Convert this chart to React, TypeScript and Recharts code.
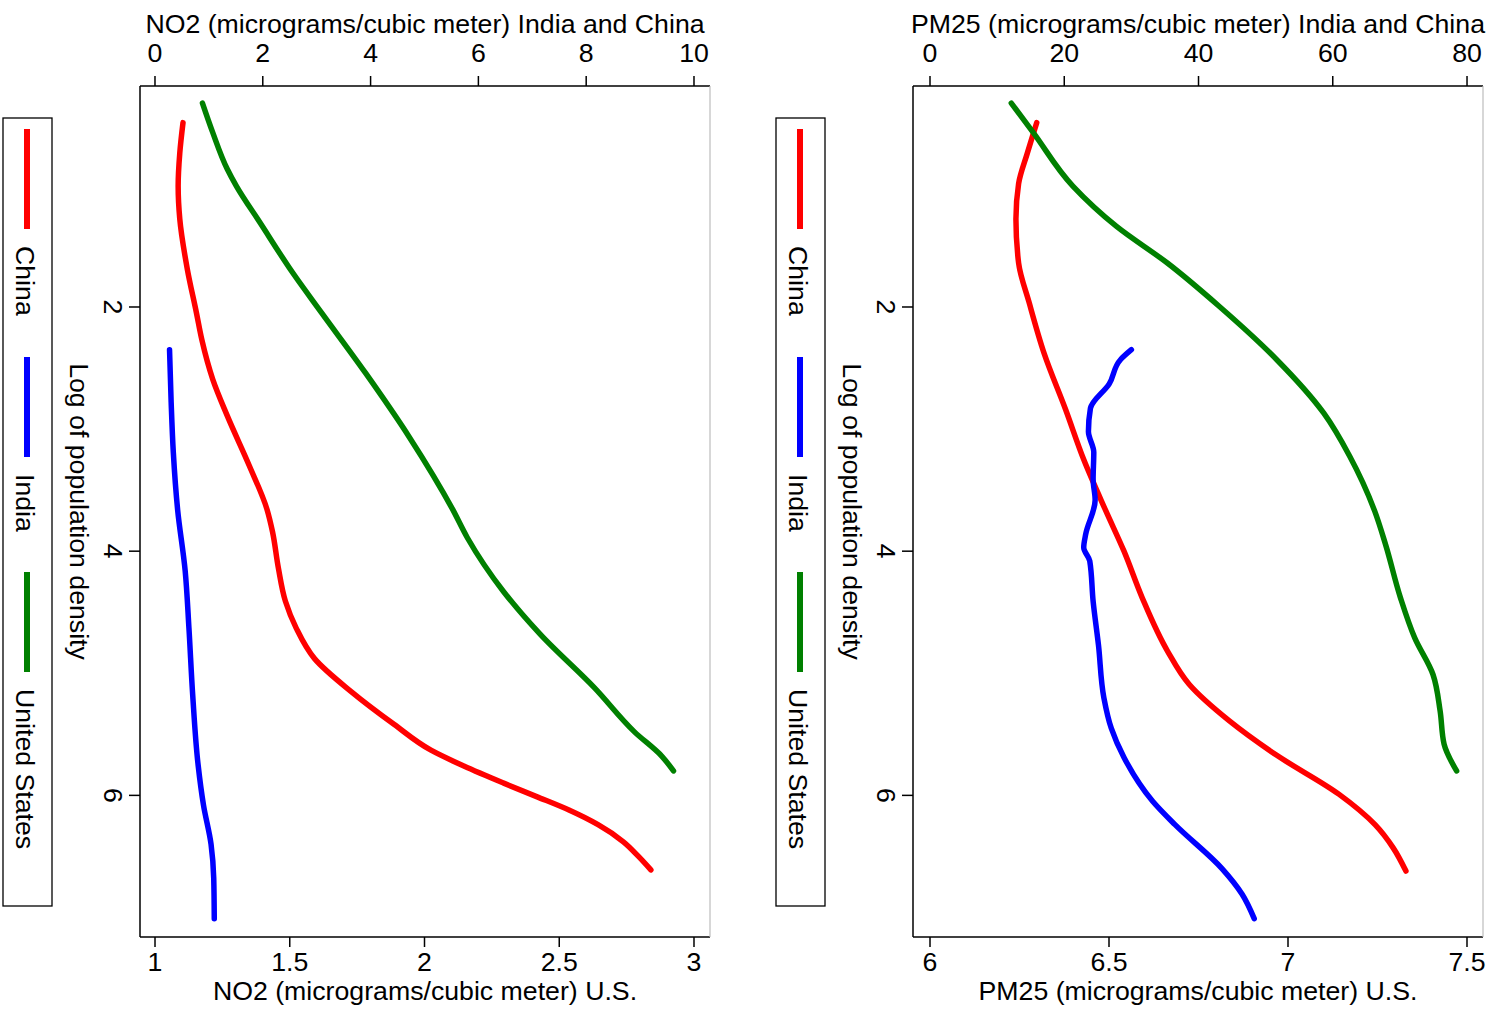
import React from 'react';
import { LineChart, Line, XAxis, YAxis, Legend } from 'recharts';

const FONT = '"Liberation Sans", Arial, Helvetica, sans-serif';

// vertical axis: log of population density (d); horizontal value (v)
const no2China = [
  { d: 0.49, v: 0.52 }, { d: 0.74, v: 0.46 }, { d: 1.01, v: 0.43 }, { d: 1.28, v: 0.46 },
  { d: 1.69, v: 0.6 }, { d: 2.05, v: 0.77 }, { d: 2.27, v: 0.87 }, { d: 2.59, v: 1.07 },
  { d: 2.89, v: 1.34 }, { d: 3.3, v: 1.75 }, { d: 3.66, v: 2.08 }, { d: 3.84, v: 2.18 },
  { d: 4.14, v: 2.29 }, { d: 4.41, v: 2.42 }, { d: 4.63, v: 2.62 }, { d: 4.88, v: 2.96 },
  { d: 5.15, v: 3.64 }, { d: 5.42, v: 4.44 }, { d: 5.63, v: 5.12 }, { d: 5.76, v: 5.73 },
  { d: 5.9, v: 6.47 }, { d: 6.01, v: 7.08 }, { d: 6.12, v: 7.68 }, { d: 6.24, v: 8.22 },
  { d: 6.38, v: 8.69 }, { d: 6.5, v: 8.97 }, { d: 6.61, v: 9.2 },
];

const no2India = [
  { d: 2.35, v: 0.27 }, { d: 2.78, v: 0.3 }, { d: 3.19, v: 0.34 }, { d: 3.66, v: 0.42 },
  { d: 4.16, v: 0.56 }, { d: 4.63, v: 0.63 }, { d: 5.18, v: 0.7 }, { d: 5.75, v: 0.8 },
  { d: 6.08, v: 0.9 }, { d: 6.4, v: 1.04 }, { d: 6.68, v: 1.09 }, { d: 7.01, v: 1.1 },
];

const no2US = [
  { d: 0.33, v: 1.176 }, { d: 0.57, v: 1.214 }, { d: 0.87, v: 1.268 }, { d: 1.01, v: 1.302 },
  { d: 1.31, v: 1.39 }, { d: 1.72, v: 1.511 }, { d: 2.05, v: 1.619 }, { d: 2.54, v: 1.781 },
  { d: 3.06, v: 1.942 }, { d: 3.66, v: 2.105 }, { d: 3.89, v: 2.159 }, { d: 4.33, v: 2.293 },
  { d: 4.68, v: 2.429 }, { d: 5.12, v: 2.631 }, { d: 5.48, v: 2.779 }, { d: 5.68, v: 2.881 },
  { d: 5.8, v: 2.924 },
];

const pmChina = [
  { d: 0.49, v: 15.9 }, { d: 0.74, v: 14.5 }, { d: 0.99, v: 13.2 }, { d: 1.28, v: 12.8 },
  { d: 1.64, v: 13.2 }, { d: 1.97, v: 14.8 }, { d: 2.38, v: 17.0 }, { d: 2.84, v: 20.2 },
  { d: 3.25, v: 22.9 }, { d: 3.67, v: 26.2 }, { d: 4.0, v: 28.9 }, { d: 4.38, v: 31.6 },
  { d: 4.82, v: 35.4 }, { d: 5.09, v: 38.6 }, { d: 5.39, v: 44.6 }, { d: 5.67, v: 51.6 },
  { d: 5.99, v: 60.9 }, { d: 6.24, v: 66.3 }, { d: 6.43, v: 69.0 }, { d: 6.62, v: 70.9 },
];

const pmIndia = [
  { d: 2.35, v: 30.0 }, { d: 2.43, v: 28.4 }, { d: 2.63, v: 26.7 }, { d: 2.83, v: 23.9 },
  { d: 3.02, v: 23.6 }, { d: 3.19, v: 24.4 }, { d: 3.41, v: 24.3 }, { d: 3.58, v: 24.6 },
  { d: 3.86, v: 23.2 }, { d: 3.97, v: 22.9 }, { d: 4.08, v: 23.8 }, { d: 4.41, v: 24.3 },
  { d: 4.77, v: 25.1 }, { d: 5.2, v: 25.9 }, { d: 5.45, v: 27.0 }, { d: 5.69, v: 28.9 },
  { d: 6.05, v: 33.2 }, { d: 6.24, v: 36.5 }, { d: 6.6, v: 43.5 }, { d: 6.81, v: 46.5 },
  { d: 7.01, v: 48.3 },
];

const pmUS = [
  { d: 0.33, v: 6.227 }, { d: 0.57, v: 6.288 }, { d: 1.01, v: 6.399 }, { d: 1.34, v: 6.521 },
  { d: 1.64, v: 6.663 }, { d: 1.99, v: 6.806 }, { d: 2.43, v: 6.968 }, { d: 2.87, v: 7.1 },
  { d: 3.22, v: 7.172 }, { d: 3.67, v: 7.242 }, { d: 3.95, v: 7.273 }, { d: 4.38, v: 7.314 },
  { d: 4.71, v: 7.354 }, { d: 5.01, v: 7.405 }, { d: 5.31, v: 7.425 }, { d: 5.58, v: 7.436 },
  { d: 5.8, v: 7.471 },
];

const densityTicks = [2, 4, 6];
const no2TopTicks = [0, 2, 4, 6, 8, 10];
const no2BottomTicks = [1, 1.5, 2, 2.5, 3];
const pmTopTicks = [0, 20, 40, 60, 80];
const pmBottomTicks = [6, 6.5, 7, 7.5];

const W = 760;
const H = 1011;
const LEFT = 140;
const TOP = 86;
const PLOT_W = 570;
const BOTTOM_H = 74;

const txt = { fontFamily: FONT, fontSize: 26.7, fill: '#000' };
const axisStyle = { stroke: '#000', strokeWidth: 1.5 };

const TopTick = ({ x, y, payload }: any) => (
  <text x={x} y={y} textAnchor="middle" dominantBaseline="central" style={txt}>
    {payload.value}
  </text>
);

const LeftTick = ({ x, y, payload }: any) => (
  <text x={x} y={y} transform={`rotate(90 ${x} ${y})`} textAnchor="middle" dominantBaseline="central" style={txt}>
    {payload.value}
  </text>
);

const Title = ({ x, y, text, rotate }: any) => (
  <text
    x={x}
    y={y}
    transform={rotate ? `rotate(90 ${x} ${y})` : undefined}
    textAnchor="middle"
    dominantBaseline="central"
    style={txt}
  >
    {text}
  </text>
);

const LEGEND_STARTS = [12, 240, 455];

function LegendBox({ payload }: any) {
  return (
    <svg width={52} height={791} style={{ display: 'block' }}>
      <rect x={1} y={1} width={49} height={788} fill="#fff" stroke="#000" strokeWidth={1.3} />
      {(payload || []).map((p: any, i: number) => {
        const y0 = LEGEND_STARTS[i];
        return (
          <g key={p.value}>
            <line x1={25} x2={25} y1={y0} y2={y0 + 100} stroke={p.color} strokeWidth={6} />
            <text
              x={23}
              y={y0 + 117}
              transform={`rotate(90 23 ${y0 + 117})`}
              dominantBaseline="central"
              style={txt}
            >
              {p.value}
            </text>
          </g>
        );
      })}
    </svg>
  );
}

function Panel({ left, topTitle, bottomTitle, topDomain, topTicks, botDomain, botTicks, china, india, us }: any) {
  const cx = LEFT + PLOT_W / 2;
  return (
    <div style={{ position: 'absolute', left, top: 0 }}>
      <LineChart
        width={W}
        height={H}
        layout="vertical"
        margin={{ top: 0, right: W - LEFT - PLOT_W - 1, bottom: 0, left: 0 }}
      >
        <XAxis
          xAxisId="top"
          orientation="top"
          type="number"
          domain={topDomain}
          ticks={topTicks}
          allowDataOverflow
          height={TOP}
          tickSize={10}
          tickMargin={23}
          axisLine={axisStyle}
          tickLine={axisStyle}
          tick={(p: any) => <TopTick {...p} />}
          label={() => <Title x={cx} y={24} text={topTitle} />}
        />
        <XAxis
          xAxisId="bot"
          orientation="bottom"
          type="number"
          domain={botDomain}
          ticks={botTicks}
          allowDataOverflow
          height={BOTTOM_H}
          tickSize={10}
          tickMargin={15}
          axisLine={axisStyle}
          tickLine={axisStyle}
          tick={(p: any) => <TopTick {...p} />}
          label={() => <Title x={cx} y={H - BOTTOM_H + 54} text={bottomTitle} />}
        />
        <YAxis
          type="number"
          dataKey="d"
          domain={[0.19, 7.16]}
          ticks={densityTicks}
          allowDataOverflow
          width={LEFT}
          tickSize={11}
          tickMargin={16}
          axisLine={axisStyle}
          tickLine={axisStyle}
          tick={(p: any) => <LeftTick {...p} />}
          label={() => <Title x={79} y={TOP + (H - TOP - BOTTOM_H) / 2} text="Log of population density" rotate />}
        />
        <YAxis
          yAxisId="frame"
          orientation="right"
          type="number"
          domain={[0.19, 7.16]}
          width={1}
          tick={false}
          tickLine={false}
          axisLine={{ stroke: '#bdbdbd', strokeWidth: 1.2 }}
        />
        <Legend
          layout="horizontal"
          verticalAlign="middle"
          align="center"
          content={(p: any) => <LegendBox {...p} />}
          wrapperStyle={{ position: 'absolute', left: 2, top: 117, width: 52, height: 791 }}
        />
        <Line
          name="China"
          xAxisId="top"
          data={china}
          dataKey="v"
          type="monotone"
          stroke="#ff0000"
          strokeWidth={5.5}
          strokeLinecap="round"
          dot={false}
          isAnimationActive={false}
        />
        <Line
          name="India"
          xAxisId="top"
          data={india}
          dataKey="v"
          type="monotone"
          stroke="#0000ff"
          strokeWidth={5.5}
          strokeLinecap="round"
          dot={false}
          isAnimationActive={false}
        />
        <Line
          name="United States"
          xAxisId="bot"
          data={us}
          dataKey="v"
          type="monotone"
          stroke="#008000"
          strokeWidth={5.5}
          strokeLinecap="round"
          dot={false}
          isAnimationActive={false}
        />
      </LineChart>
    </div>
  );
}

export default function App() {
  return (
    <div style={{ position: 'absolute', left: 0, top: 0, width: 1497, height: 1011, background: '#fff', overflow: 'hidden' }}>
      <Panel
        left={0}
        topTitle="NO2 (micrograms/cubic meter) India and China"
        bottomTitle="NO2 (micrograms/cubic meter) U.S."
        topDomain={[-0.278, 10.297]}
        topTicks={no2TopTicks}
        botDomain={[0.9443, 3.0594]}
        botTicks={no2BottomTicks}
        china={no2China}
        india={no2India}
        us={no2US}
      />
      <Panel
        left={773}
        topTitle="PM25 (micrograms/cubic meter) India and China"
        bottomTitle="PM25 (micrograms/cubic meter) U.S."
        topDomain={[-2.533, 82.38]}
        topTicks={pmTopTicks}
        botDomain={[5.9525, 7.5447]}
        botTicks={pmBottomTicks}
        china={pmChina}
        india={pmIndia}
        us={pmUS}
      />
    </div>
  );
}
